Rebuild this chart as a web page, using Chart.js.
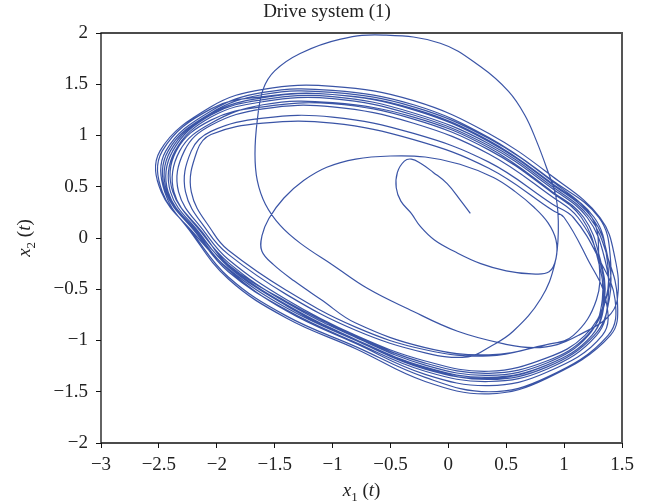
<!DOCTYPE html>
<html>
<head>
<meta charset="utf-8">
<script src="https://cdn.jsdelivr.net/npm/chart.js@4.4.0/dist/chart.umd.min.js"></script>
<style>
  html, body { margin: 0; padding: 0; background: #fff; }
</style>
</head>
<body>
<canvas id="phaseChart" width="654" height="504"></canvas>
<script>
// Axis ticks
const xTicks = [-3, -2.5, -2, -1.5, -1, -0.5, 0, 0.5, 1, 1.5];
const yTicks = [-2, -1.5, -1, -0.5, 0, 0.5, 1, 1.5, 2];

// Trajectory, as [x1, x2] pairs, in time order
const spiral = [[0.19,0.24],[0.11,0.36],[-0.01,0.53],[-0.13,0.64],[-0.24,0.73],[-0.32,0.77],[-0.38,0.75],
  [-0.44,0.64],[-0.45,0.49],[-0.41,0.36],[-0.32,0.24],[-0.24,0.11],[-0.12,-0.02],[0.05,-0.13],[0.28,-0.25],
  [0.5,-0.32],[0.72,-0.35],[0.87,-0.33],[0.93,-0.2],[0.93,-0.02],[0.86,0.15],[0.74,0.3],[0.58,0.45],
  [0.39,0.59],[0.1,0.72],[-0.2,0.79],[-0.5,0.8],[-0.8,0.77],[-1.05,0.69],[-1.25,0.56],[-1.42,0.39],
  [-1.55,0.19],[-1.61,0.02],[-1.61,-0.13],[-1.51,-0.26],[-1.33,-0.42],[-1.1,-0.6],
  [-0.8,-0.83],[-0.2,-1.07],[0.35,-1.14],[0.85,-1.04]];
const loop1 = [[1.08,-0.95],[1.28,-0.6],[1.30,-0.2],[1.24,0.2],[0.9,0.55],[0.35,0.97],[-0.3,1.28],[-1.0,1.42],[-1.6,1.40],[-2.05,1.22],[-2.42,0.85],[-2.44,0.45],[-2.18,0.05],[-1.9,-0.33],[-1.4,-0.70],[-0.8,-1.02],[-0.2,-1.30],[0.35,-1.40],[0.85,-1.28]];
const loop2 = [[1.28,-0.95],[1.38,-0.6],[1.35,-0.2],[1.2,0.2],[0.9,0.48],[0.35,0.90],[-0.3,1.20],[-1.0,1.36],[-1.6,1.33],[-2.05,1.18],[-2.36,0.85],[-2.40,0.45],[-2.15,0.05],[-1.9,-0.28],[-1.4,-0.66],[-0.8,-1.0],[-0.2,-1.27],[0.35,-1.38],[0.85,-1.26]];
const loop3 = [[1.26,-0.95],[1.39,-0.6],[1.38,-0.2],[1.24,0.2],[0.9,0.52],[0.35,0.94],[-0.3,1.25],[-1.0,1.40],[-1.6,1.38],[-2.05,1.26],[-2.47,0.85],[-2.47,0.45],[-2.21,0.05],[-1.9,-0.38],[-1.4,-0.76],[-0.8,-1.06],[-0.2,-1.36],[0.35,-1.50],[0.85,-1.36]];
const loop4 = [[1.38,-0.95],[1.44,-0.6],[1.3,-0.2],[1.08,0.2],[0.9,0.33],[0.35,0.74],[-0.3,1.02],[-1.0,1.18],[-1.6,1.17],[-2.05,1.04],[-2.22,0.85],[-2.27,0.45],[-2.07,0.05],[-1.9,-0.16],[-1.4,-0.55],[-0.8,-0.9],[-0.2,-1.12]];
const bigArc = [[0.17,-1.16],[0.36,-1.06],[0.56,-0.91],[0.8,-0.59],[0.92,-0.25],[0.95,0.08],[0.93,0.4],[0.85,0.68],
  [0.76,0.95],[0.66,1.2],[0.52,1.43],[0.28,1.67],[-0.07,1.9],[-0.56,1.98],[-0.93,1.94],[-1.28,1.8],[-1.5,1.63],
  [-1.6,1.45],[-1.65,1.15],[-1.67,0.82],[-1.65,0.56],[-1.58,0.33],[-1.45,0.12],[-1.28,-0.05],[-0.99,-0.27],
  [-0.7,-0.49],[-0.35,-0.69],[0.08,-0.91],[0.51,-1.04],[0.74,-1.07],[0.94,-1.04],[1.14,-0.94],[1.37,-0.78],[1.46,-0.6]];
const loop6 = [[1.44,-0.2],[1.31,0.2],[0.9,0.60],[0.35,1.02],[-0.3,1.34],[-1.0,1.48],[-1.6,1.45],[-2.05,1.28],[-2.49,0.85],[-2.48,0.45],[-2.2,0.05],[-1.9,-0.30],[-1.4,-0.68],[-0.8,-1.0],[-0.2,-1.28],[0.35,-1.37],[0.85,-1.24]];
const loop7 = [[1.24,-0.95],[1.34,-0.6],[1.30,-0.2],[1.12,0.2],[0.9,0.40],[0.35,0.82],[-0.3,1.12],[-1.0,1.28],[-1.6,1.26],[-2.05,1.10],[-2.28,0.85],[-2.33,0.45],[-2.10,0.05],[-1.9,-0.21],[-1.4,-0.60],[-0.8,-0.95],[-0.2,-1.2],[0.35,-1.30],[0.85,-1.17]];
const loop8 = [[1.18,-0.95],[1.36,-0.6],[1.40,-0.2],[1.30,0.2],[0.9,0.56],[0.35,0.98],[-0.3,1.30],[-1.0,1.44],[-1.6,1.42],[-2.05,1.24],[-2.44,0.85],[-2.45,0.45],[-2.22,0.05],[-1.9,-0.40],[-1.4,-0.78],[-0.8,-1.08],[-0.2,-1.40],[0.35,-1.52],[0.85,-1.37]];
const loop9 = [[1.40,-0.95],[1.46,-0.6],[1.38,-0.2],[1.22,0.2],[0.9,0.50],[0.35,0.92],[-0.3,1.22],[-1.0,1.38],[-1.6,1.35],[-2.05,1.20],[-2.38,0.85],[-2.42,0.45],[-2.16,0.05],[-1.9,-0.27],[-1.4,-0.65],[-0.8,-0.99],[-0.2,-1.26],[0.35,-1.36],[0.85,-1.24]];
const loop5 = [[1.24,-0.95],[1.35,-0.6],[1.31,-0.2],[1.17,0.2],[0.9,0.45],[0.35,0.88],[-0.3,1.18],[-1.0,1.32],[-1.6,1.30],[-2.05,1.12],[-2.32,0.85],[-2.37,0.45],[-2.13,0.05],[-1.9,-0.24],[-1.4,-0.63],[-0.8,-0.97],[-0.2,-1.24],[0.35,-1.34],[0.85,-1.22]];
const loop11 = [[1.21,-0.95],[1.33,-0.6],[1.29,-0.2],[1.15,0.2],[0.9,0.44],[0.35,0.86],[-0.3,1.16],[-1.0,1.31],[-1.6,1.28],[-2.05,1.15],[-2.35,0.85],[-2.38,0.45],[-2.12,0.05],[-1.9,-0.26],[-1.4,-0.62],[-0.8,-0.96],[-0.2,-1.22],[0.35,-1.32],[0.85,-1.20]];
const loop12 = [[1.20,-0.95],[1.36,-0.6],[1.37,-0.2],[1.26,0.2],[0.9,0.53],[0.35,0.95],[-0.3,1.26],[-1.0,1.40],[-1.6,1.37],[-2.05,1.21],[-2.40,0.85],[-2.43,0.45],[-2.17,0.05],[-1.9,-0.31],[-1.4,-0.71],[-0.8,-1.03],[-0.2,-1.33],[0.35,-1.44],[0.85,-1.31]];
const loop10 = [[1.33,-0.95],[1.36,-0.6],[1.2,-0.2],[1.0,0.2],[0.9,0.27],[0.35,0.68],[-0.3,0.96],[-1.0,1.12],[-1.6,1.12],[-2.05,1.01],[-2.17,0.85],[-2.22,0.45],[-2.03,0.05],[-1.9,-0.12],[-1.4,-0.51],[-0.8,-0.87],[-0.2,-1.09],[0.35,-1.15],[0.85,-1.04]];

const path = [].concat(spiral, loop1, loop2, loop3, loop4, bigArc, loop6, loop7, loop8,
  loop9, loop5, loop11, loop12, loop10);

const SERIF = '"Liberation Serif", "DejaVu Serif", serif';

function fmt(v) {
  return v < 0 ? '\u2212' + Math.abs(v) : String(v);
}

// draws e.g. x₁ (t) with italic letters and a real subscript
function drawAxisLabel(ctx, sub, cx, baseline) {
  const big = '19px ' + SERIF, it = 'italic 19px ' + SERIF, small = '13px ' + SERIF;
  const parts = [
    { t: 'x', f: it, dy: 0 },
    { t: sub, f: small, dy: 5 },
    { t: ' (', f: big, dy: 0 },
    { t: 't', f: it, dy: 0 },
    { t: ')', f: big, dy: 0 }
  ];
  let w = 0;
  parts.forEach(p => { ctx.font = p.f; p.w = ctx.measureText(p.t).width; w += p.w; });
  let x = cx - w / 2;
  ctx.textAlign = 'left';
  ctx.textBaseline = 'alphabetic';
  parts.forEach(p => { ctx.font = p.f; ctx.fillText(p.t, x, baseline + p.dy); x += p.w; });
}

const textPlugin = {
  id: 'texts',
  afterDraw(chart) {
    const { ctx, chartArea: a } = chart;
    ctx.save();
    // frame
    ctx.strokeStyle = '#111';
    ctx.lineWidth = 1.3;
    ctx.beginPath();
    ctx.moveTo(a.left, a.bottom); ctx.lineTo(a.left, a.top); ctx.lineTo(a.right, a.top);
    ctx.moveTo(a.left, a.bottom); ctx.lineTo(a.right, a.bottom);
    ctx.stroke();
    ctx.strokeStyle = '#555';
    ctx.lineWidth = 2;
    ctx.beginPath();
    ctx.moveTo(a.right, a.top - 1); ctx.lineTo(a.right, a.bottom);
    ctx.stroke();

    ctx.fillStyle = '#222';
    ctx.font = '19px ' + SERIF;
    ctx.textAlign = 'center';
    ctx.textBaseline = 'alphabetic';
    ctx.fillText('Drive system (1)', 327, 17);

    drawAxisLabel(ctx, '1', (a.left + a.right) / 2, 496);

    ctx.translate(30, (a.top + a.bottom) / 2);
    ctx.rotate(-Math.PI / 2);
    drawAxisLabel(ctx, '2', 0, 0);
    ctx.restore();
  }
};

new Chart(document.getElementById('phaseChart').getContext('2d'), {
  type: 'scatter',
  data: {
    datasets: [{
      data: path.map(p => ({ x: p[0], y: p[1] })),
      showLine: true,
      borderColor: '#3a54a6',
      borderWidth: 1.2,
      pointRadius: 0,
      tension: 0.4,
      fill: false
    }]
  },
  options: {
    responsive: false,
    animation: false,
    layout: { padding: { top: 33, right: 32, left: 0, bottom: 0 } },
    plugins: { legend: { display: false }, tooltip: { enabled: false } },
    scales: {
      x: {
        type: 'linear', min: -3, max: 1.5,
        afterBuildTicks: s => { s.ticks = xTicks.map(v => ({ value: v })); },
        afterFit: s => { s.height = 61; },
        grid: { display: true, drawOnChartArea: false, drawTicks: true, tickLength: 5, color: '#111' },
        border: { display: false },
        ticks: { padding: 6, color: '#222', font: { family: SERIF, size: 19 }, callback: v => fmt(v), maxRotation: 0 }
      },
      y: {
        type: 'linear', min: -2, max: 2,
        afterBuildTicks: s => { s.ticks = yTicks.map(v => ({ value: v })); },
        afterFit: s => { s.width = 101; },
        grid: { display: true, drawOnChartArea: false, drawTicks: true, tickLength: 5, color: '#111' },
        border: { display: false },
        ticks: { padding: 8, color: '#222', font: { family: SERIF, size: 19 }, callback: v => fmt(v) }
      }
    }
  },
  plugins: [textPlugin]
});
</script>
</body>
</html>
